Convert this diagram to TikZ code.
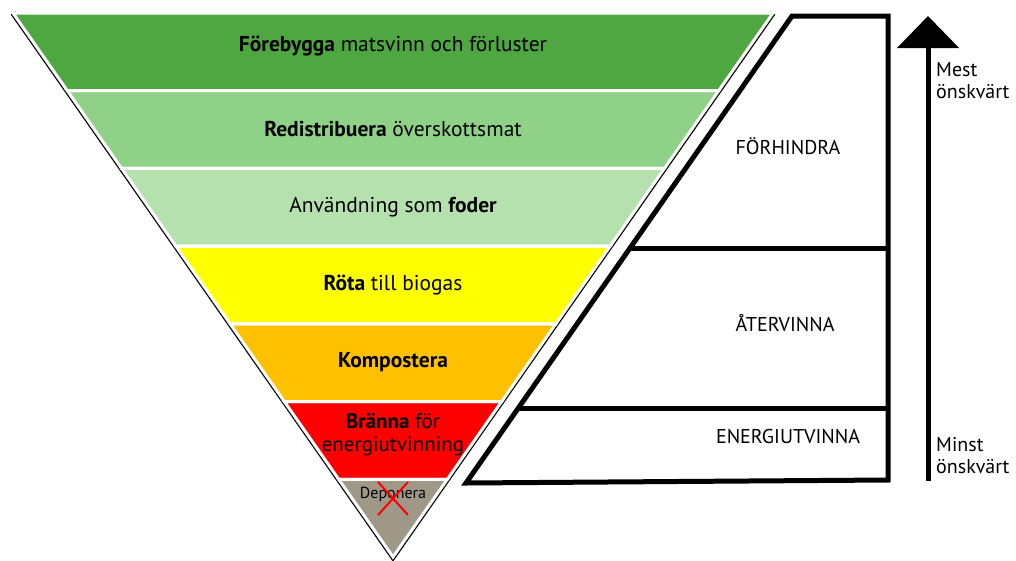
\documentclass[tikz,border=0pt]{standalone}
\usepackage{fontspec}
\setmainfont{PT Sans}
\usetikzlibrary{arrows.meta}
\definecolor{bandA}{RGB}{78,167,64}
\definecolor{bandB}{RGB}{143,210,135}
\definecolor{bandC}{RGB}{181,225,175}
\definecolor{bandD}{RGB}{255,255,0}
\definecolor{bandE}{RGB}{255,192,0}
\definecolor{bandF}{RGB}{255,0,0}
\definecolor{bandG}{RGB}{160,152,134}
\definecolor{shade}{RGB}{185,185,185}
\begin{document}
\begin{tikzpicture}[x=1pt,y=-1pt,
  band/.style={draw=white,line width=3pt,line join=miter},
  lbl/.style={font=\fontsize{21.5}{23}\selectfont,inner sep=0pt,align=center},
  rlbl/.style={font=\fontsize{20}{22}\selectfont,inner sep=0pt},
  side/.style={font=\fontsize{20}{22}\selectfont,inner sep=0pt,align=left,anchor=north west},
  frame/.style={draw=black,line width=5pt,line join=miter},
  cross/.style={draw=red,line width=2pt}]
\useasboundingbox (0,0) rectangle (1016,560);
% shadow edges
\draw[shade,line width=5.5pt] (13,13) -- (393,557) -- (773,13);
% bands
\fill[bandA] (13,13) -- (773,13) -- (718.7,90.7) -- (67.3,90.7) -- cycle;
\fill[bandB] (67.3,90.7) -- (718.7,90.7) -- (664.4,168.4) -- (121.6,168.4) -- cycle;
\fill[bandC] (121.6,168.4) -- (664.4,168.4) -- (610.2,246.1) -- (175.8,246.1) -- cycle;
\fill[bandD] (175.8,246.1) -- (610.2,246.1) -- (555.8,323.9) -- (230.2,323.9) -- cycle;
\fill[bandE] (230.2,323.9) -- (555.8,323.9) -- (501.6,401.6) -- (284.4,401.6) -- cycle;
\fill[bandF] (284.4,401.6) -- (501.6,401.6) -- (447.3,479.3) -- (338.7,479.3) -- cycle;
\fill[bandG] (338.7,479.3) -- (447.3,479.3) -- (393,557) -- cycle;
\draw[band] (338.7,479.3) -- (447.3,479.3) -- (393,557) -- cycle;
\foreach \a/\b/\c/\d/\e/\f/\g/\h in {13/13/773/13/718.7/90.7/67.3/90.7,67.3/90.7/718.7/90.7/664.4/168.4/121.6/168.4,121.6/168.4/664.4/168.4/610.2/246.1/175.8/246.1,175.8/246.1/610.2/246.1/555.8/323.9/230.2/323.9,230.2/323.9/555.8/323.9/501.6/401.6/284.4/401.6,284.4/401.6/501.6/401.6/447.3/479.3/338.7/479.3}
  \draw[band] (\a,\b) -- (\c,\d) -- (\e,\f) -- (\g,\h) -- cycle;
% band texts
\node[lbl] (t1) at (393,46) {\textbf{Förebygga} matsvinn och förluster};
\node[lbl] (t2) at (393,129) {\textbf{Redistribuera} överskottsmat};
\node[lbl] (t3) at (393,207) {Användning som \textbf{foder}};
\node[lbl] (t4) at (393,285) {\textbf{Röta} till biogas};
\node[lbl] (t5) at (393,362) {\textbf{Kompostera}};
\node[lbl,font=\fontsize{21}{23}\selectfont] (t6) at (393,435) {\textbf{Bränna} för\\energiutvinning};
\node[lbl,font=\fontsize{16}{19}\selectfont] (t7) at (393,494) {Deponera};
\coordinate (x1) at (378,482); \coordinate (x2) at (408,515);
\coordinate (x3) at (408,482); \coordinate (x4) at (378,515);
\draw[cross] (x1) -- (x2);
\draw[cross] (x3) -- (x4);
% right frame
\draw[frame] (792,16) -- (888,16) -- (888,480) -- (466,483) -- cycle;
\coordinate (d1l) at (630,248); \coordinate (d1r) at (888,248);
\coordinate (d2l) at (518,408); \coordinate (d2r) at (888,408);
\draw[frame] (d1l) -- (d1r);
\draw[frame] (d2l) -- (d2r);
\node[rlbl] (r1) at (788,146) {FÖRHINDRA};
\node[rlbl] (r2) at (785,323) {ÅTERVINNA};
\node[rlbl] (r3) at (788,436) {ENERGIUTVINNA};
% arrow
\coordinate (aS) at (928,481);
\coordinate (aE) at (928,16);
\draw[line width=5pt,-{Triangle[width=61pt,length=32pt]}] (aS) -- (aE);
\node[side] (m1) at (936,62) {Mest\\önskvärt};
\node[side] (m2) at (936,437) {Minst\\önskvärt};
\end{tikzpicture}
\end{document}
